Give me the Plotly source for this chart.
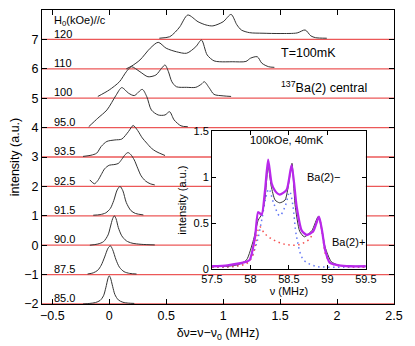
import plotly.graph_objects as go

# stacked spectra: field label, baseline offset, x (MHz), intensity above baseline
fields = ['85.0', '87.5', '90.0', '91.5', '92.5', '93.5', '95.0', '100', '110', '120']
offsets = [-2, -1, 0, 1, 2, 3, 4, 5, 6, 7]

x_85 = [-0.23, -0.17, -0.12, -0.08, -0.05, -0.03, -0.01, 0.0, 0.01, 0.03, 0.05, 0.08, 0.12, 0.17, 0.22]
y_85 = [0.0, 0.02, 0.05, 0.12, 0.28, 0.55, 0.88, 0.96, 0.9, 0.6, 0.32, 0.14, 0.06, 0.03, 0.02]
x_875 = [-0.19, -0.14, -0.1, -0.07, -0.04, -0.01, 0.01, 0.03, 0.06, 0.09, 0.13, 0.18, 0.24]
y_875 = [0.02, 0.06, 0.15, 0.32, 0.6, 0.9, 0.98, 0.85, 0.5, 0.25, 0.1, 0.04, 0.02]
x_90 = [-0.17, -0.1, -0.05, -0.01, 0.01, 0.03, 0.045, 0.06, 0.08, 0.11, 0.15, 0.2, 0.28, 0.4]
y_90 = [0.0, 0.04, 0.12, 0.35, 0.62, 0.9, 1.0, 0.9, 0.6, 0.32, 0.15, 0.07, 0.03, 0.01]
x_915 = [-0.14, -0.08, -0.03, 0.01, 0.04, 0.07, 0.095, 0.12, 0.15, 0.19, 0.23, 0.3]
y_915 = [0.02, 0.04, 0.1, 0.25, 0.52, 0.88, 1.0, 0.85, 0.45, 0.18, 0.08, 0.03]
x_925 = [-0.17, -0.13, -0.1, -0.07, -0.04, 0.0, 0.04, 0.08, 0.11, 0.14, 0.165, 0.19, 0.22, 0.25, 0.28, 0.32, 0.36, 0.4]
y_925 = [0.22, 0.09, 0.2, 0.4, 0.6, 0.72, 0.74, 0.78, 0.92, 1.08, 1.15, 1.08, 0.9, 0.62, 0.36, 0.18, 0.09, 0.05]
x_935 = [-0.23, -0.16, -0.11, -0.07, -0.02, 0.05, 0.11, 0.17, 0.21, 0.25, 0.29, 0.33, 0.37, 0.41, 0.49]
y_935 = [0.02, 0.06, 0.13, 0.36, 0.53, 0.58, 0.61, 0.87, 1.07, 0.9, 0.65, 0.47, 0.3, 0.19, 0.05]
x_95 = [-0.18, -0.1, -0.02, 0.06, 0.11, 0.17, 0.22, 0.29, 0.33, 0.37, 0.43, 0.49, 0.53, 0.57, 0.63, 0.69]
y_95 = [0.03, 0.32, 0.6, 1.1, 1.36, 1.17, 1.09, 1.3, 1.05, 0.6, 0.43, 0.43, 0.54, 0.26, 0.06, 0.03]
x_100 = [-0.1, 0.0, 0.09, 0.15, 0.195, 0.27, 0.34, 0.41, 0.46, 0.49, 0.52, 0.55, 0.59, 0.68, 0.76, 0.81, 0.835, 0.88, 0.92, 1.0, 1.07]
y_100 = [0.06, 0.28, 0.56, 0.9, 1.07, 0.9, 0.73, 0.79, 1.02, 1.13, 0.9, 0.56, 0.39, 0.37, 0.37, 0.48, 0.56, 0.34, 0.13, 0.08, 0.06]
x_110 = [0.15, 0.2, 0.27, 0.36, 0.43, 0.5, 0.59, 0.68, 0.76, 0.81, 0.86, 0.92, 0.97, 1.08, 1.2, 1.24, 1.3, 1.34, 1.4, 1.45]
y_110 = [0.0, 0.1, 0.3, 0.7, 0.9, 0.7, 0.58, 0.53, 0.75, 0.98, 0.47, 0.27, 0.24, 0.24, 0.25, 0.36, 0.41, 0.19, 0.07, 0.05]
x_120 = [0.44, 0.53, 0.58, 0.62, 0.69, 0.78, 0.85, 0.91, 1.0, 1.07, 1.12, 1.16, 1.23, 1.35, 1.5, 1.65, 1.72, 1.77, 1.81, 1.91]
y_120 = [0.04, 0.09, 0.25, 0.43, 0.83, 0.6, 0.49, 0.46, 0.6, 0.85, 0.5, 0.32, 0.23, 0.21, 0.2, 0.22, 0.32, 0.12, 0.06, 0.04]

spec_x = [x_85, x_875, x_90, x_915, x_925, x_935, x_95, x_100, x_110, x_120]
spec_y = [y_85, y_875, y_90, y_915, y_925, y_935, y_95, y_100, y_110, y_120]

# inset: 100 kOe, 40 mK
nu_exp = [57.5, 57.7, 57.85, 57.95, 58.04, 58.1, 58.15, 58.19, 58.23, 58.27, 58.32, 58.38, 58.45, 58.51, 58.54,
          58.58, 58.64, 58.7, 58.8, 58.88, 58.93, 58.97, 59.05, 59.15, 59.3, 59.5]
int_exp = [0.03, 0.03, 0.05, 0.1, 0.32, 0.53, 0.6, 0.78, 1.12, 0.9, 0.75, 0.72, 0.75, 1.0, 1.15,
           0.7, 0.41, 0.35, 0.42, 0.57, 0.42, 0.24, 0.08, 0.04, 0.03, 0.03]
nu_fit = [57.5, 57.7, 57.85, 57.95, 57.99, 58.06, 58.1, 58.145, 58.19, 58.23, 58.275, 58.32, 58.38, 58.47, 58.535,
          58.6, 58.665, 58.73, 58.815, 58.89, 58.93, 58.97, 59.03, 59.15, 59.3, 59.5]
int_fit = [0.03, 0.04, 0.06, 0.08, 0.1, 0.35, 0.62, 0.59, 0.86, 1.19, 0.93, 0.85, 0.81, 0.86, 1.13,
           0.68, 0.42, 0.37, 0.41, 0.57, 0.42, 0.21, 0.07, 0.04, 0.03, 0.03]
nu_minus = [57.5, 57.7, 57.85, 57.99, 58.08, 58.15, 58.2, 58.24, 58.3, 58.38, 58.45, 58.51, 58.55, 58.6, 58.69, 58.85, 59.0, 59.2, 59.5]
int_minus = [0.02, 0.02, 0.04, 0.1, 0.28, 0.55, 0.78, 0.87, 0.72, 0.58, 0.68, 0.84, 0.7, 0.35, 0.1, 0.03, 0.02, 0.02, 0.02]
nu_plus = [57.5, 57.8, 57.95, 58.02, 58.06, 58.12, 58.18, 58.27, 58.4, 58.53, 58.65, 58.77, 58.83, 58.89, 58.94, 58.98, 59.05, 59.2, 59.5]
int_plus = [0.02, 0.03, 0.06, 0.13, 0.25, 0.46, 0.39, 0.33, 0.28, 0.26, 0.27, 0.33, 0.44, 0.55, 0.35, 0.15, 0.06, 0.03, 0.02]

font = 'Liberation Sans, Arial, sans-serif'
red = 'rgb(236,88,88)'

fig = go.Figure()

# baselines
for off in offsets:
    fig.add_trace(go.Scatter(x=[-0.6, 2.5], y=[off, off], mode='lines',
                             line=dict(color=red, width=1.3), hoverinfo='skip'))

for xs, ys, off in zip(spec_x, spec_y, offsets):
    fig.add_trace(go.Scatter(x=xs, y=[v + off for v in ys], mode='lines',
                             line=dict(color='#333333', width=1, shape='spline', smoothing=0.8)))

# inset traces
fig.add_trace(go.Scatter(x=nu_minus, y=int_minus, xaxis='x2', yaxis='y2', mode='lines',
                         line=dict(color='rgb(100,120,245)', width=1.5, dash='1.5px,3.5px', shape='spline')))
fig.add_trace(go.Scatter(x=nu_plus, y=int_plus, xaxis='x2', yaxis='y2', mode='lines',
                         line=dict(color='rgb(245,80,80)', width=1.5, dash='1.5px,3.5px', shape='spline')))
fig.add_trace(go.Scatter(x=nu_exp, y=int_exp, xaxis='x2', yaxis='y2', mode='lines',
                         line=dict(color='#333333', width=1, shape='spline', smoothing=0.6)))
fig.add_trace(go.Scatter(x=nu_fit, y=int_fit, xaxis='x2', yaxis='y2', mode='lines',
                         line=dict(color='rgb(185,40,235)', width=2.3, shape='spline', smoothing=0.6)))

ann = []
for lab, off in zip(fields, offsets):
    ann.append(dict(x=-0.5, y=off + 0.2, xref='x', yref='y', text=lab, showarrow=False,
                    xanchor='left', yanchor='middle', font=dict(size=11)))
ann.append(dict(x=-0.5, y=7.63, xref='x', yref='y', text='H<sub>0</sub>(kOe)//c', showarrow=False,
                xanchor='left', yanchor='middle', font=dict(size=11)))
ann.append(dict(x=1.49, y=6.54, xref='x', yref='y', text='T=100mK', showarrow=False,
                xanchor='left', yanchor='middle', font=dict(size=12.5)))
ann.append(dict(x=1.49, y=5.38, xref='x', yref='y', text='<sup>137</sup>Ba(2) central', showarrow=False,
                xanchor='left', yanchor='middle', font=dict(size=12.5)))
ann.append(dict(x=58.47, y=1.4, xref='x2', yref='y2', text='100kOe, 40mK', showarrow=False,
                xanchor='center', yanchor='middle', font=dict(size=11)))
ann.append(dict(x=58.71, y=1.0, xref='x2', yref='y2', text='Ba(2)\u2212', showarrow=False,
                xanchor='left', yanchor='middle', font=dict(size=11)))
ann.append(dict(x=59.04, y=0.29, xref='x2', yref='y2', text='Ba(2)+', showarrow=False,
                xanchor='left', yanchor='middle', font=dict(size=11)))

ax = dict(showline=True, linecolor='black', linewidth=1, mirror='ticks', ticks='inside',
          ticklen=5, tickcolor='black', showgrid=False, zeroline=False)

# the page body adds an 8px offset, so margins are trimmed to land the axes where the reference has them
fig.update_layout(
    width=415, height=346,
    margin=dict(l=34, r=29, t=2, b=50),
    paper_bgcolor='white', plot_bgcolor='white',
    font=dict(family=font, size=12, color='black'),
    showlegend=False,
    annotations=ann,
    xaxis=dict(ax, range=[-0.59, 2.5], tickvals=[-0.5, 0, 0.5, 1, 1.5, 2, 2.5],
               ticktext=['\u22120.5', '0', '0.5', '1', '1.5', '2', '2.5'],
               tickfont=dict(size=12.5), automargin=False,
               title=dict(text='\u03b4\u03bd=\u03bd\u2212\u03bd<sub>0</sub> (MHz)', font=dict(size=12.5), standoff=6)),
    yaxis=dict(ax, range=[-2, 8], dtick=1, tickfont=dict(size=12.5), automargin=False,
               title=dict(text='intensity (a.u.)', font=dict(size=12.5), standoff=1)),
    xaxis2=dict(ax, domain=[0.483, 0.920], anchor='y2', range=[57.5, 59.5], dtick=0.5, ticklen=4,
                tickfont=dict(size=11), automargin=False,
                title=dict(text='\u03bd (MHz)', font=dict(size=11), standoff=0)),
    yaxis2=dict(ax, domain=[0.119, 0.588], anchor='x2', range=[0, 1.5], tickvals=[0, 0.5, 1, 1.5],
                ticktext=['0', '0.5', '1', '1.5'], ticklen=4, tickfont=dict(size=11), automargin=False,
                title=dict(text='intensity (a.u.)', font=dict(size=11), standoff=4)),
)

fig.write_html("out.html")
